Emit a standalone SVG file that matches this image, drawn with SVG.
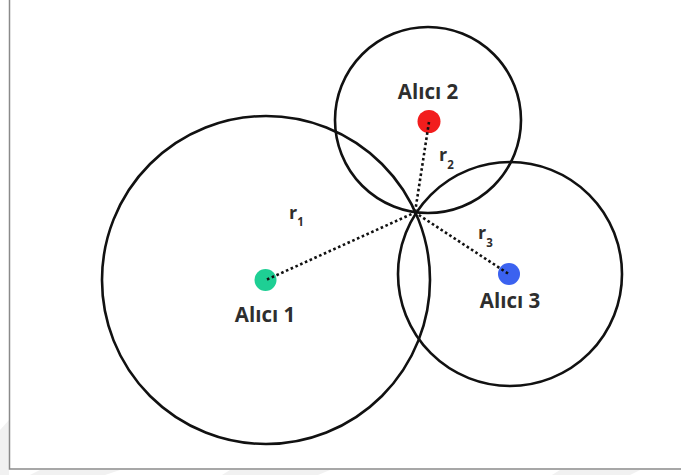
<svg xmlns="http://www.w3.org/2000/svg" width="681" height="475" viewBox="0 0 681 475">
  <style>
    .range { fill: none; stroke: #111; stroke-width: 2.6; }
    .dist { fill: none; stroke: #111; stroke-width: 2.6; stroke-dasharray: 2.6 2.6; }
    .lbl { font-family: "Open Sans", "Liberation Sans", sans-serif; font-weight: bold; font-size: 20.5px; fill: #2e2e2e; text-anchor: middle; }
    .r { font-family: "Open Sans", "Liberation Sans", sans-serif; font-weight: bold; font-size: 18px; fill: #2e2e2e; }
    .sub { font-size: 11.5px; }
  </style>

  <!-- page background and faint backdrop bands -->
  <rect width="681" height="475" fill="#ffffff"/>
  <g fill="#f1f1f1">
    <polygon points="0,430 9,420 9,475 0,475"/>
    <polygon points="40,470 120,470 105,475 30,475"/>
    <polygon points="230,470 330,470 318,475 222,475"/>
    <polygon points="560,470 640,470 630,475 552,475"/>
  </g>

  <!-- frame -->
  <path d="M9.5,0 V469 H681" fill="none" stroke="#8a8a8a" stroke-width="1.5"/>

  <!-- range circles -->
  <g id="range-circles">
    <circle class="range" cx="266" cy="280" r="164"/>
    <circle class="range" cx="428" cy="120" r="93"/>
    <circle class="range" cx="510" cy="274" r="112"/>
  </g>

  <g id="receiver-1">
    <circle cx="265.5" cy="280" r="11" fill="#1ecf94"/>
    <text class="lbl" x="265" y="322">Alıcı 1</text>
  </g>
  <g id="receiver-2">
    <circle cx="429" cy="121.5" r="11.5" fill="#f21d1d"/>
    <text class="lbl" x="428" y="99">Alıcı 2</text>
  </g>
  <g id="receiver-3">
    <circle cx="509" cy="274" r="11" fill="#3b62f0"/>
    <text class="lbl" x="510" y="308">Alıcı 3</text>
  </g>

  <!-- distance connectors from each receiver to the common point -->
  <g id="connectors">
    <line class="dist" x1="267" y1="279.5" x2="415" y2="212.5"/>
    <line class="dist" x1="429" y1="122" x2="415" y2="212.5"/>
    <line class="dist" x1="508" y1="273.5" x2="415" y2="212.5"/>
  </g>

  <!-- radius labels -->
  <g id="radius-labels">
    <text class="r" x="289" y="219">r<tspan class="sub" dy="7">1</tspan></text>
    <text class="r" x="439" y="161">r<tspan class="sub" dy="8">2</tspan></text>
    <text class="r" x="478" y="239">r<tspan class="sub" dy="8">3</tspan></text>
  </g>
</svg>
